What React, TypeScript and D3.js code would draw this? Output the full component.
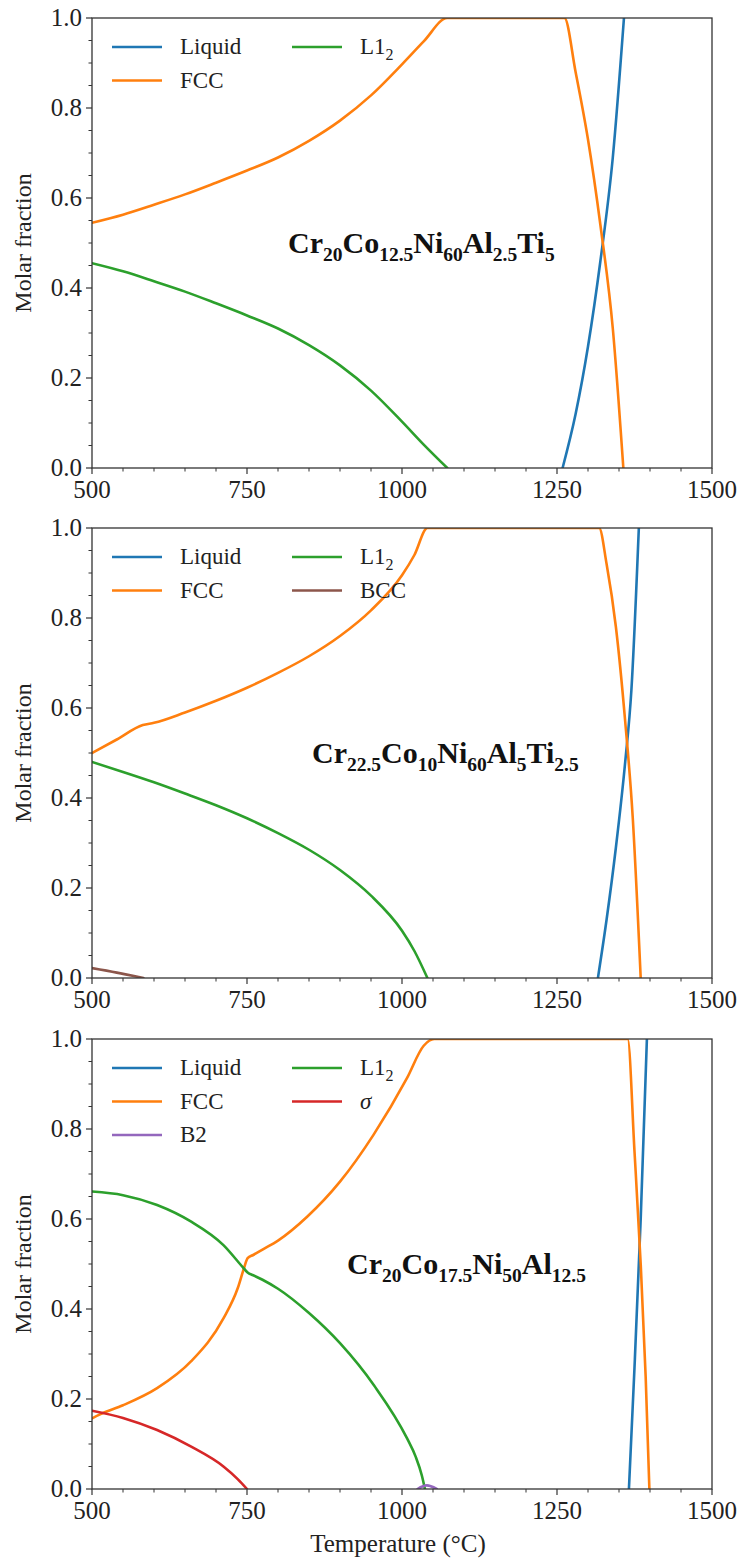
import React from "react";
import * as d3 from "d3";

type Pt = [number, number];

// Temperature / molar-fraction axes
const TEMP_DOMAIN: [number, number] = [500, 1500];
const TEMP_TICKS = [500, 750, 1000, 1250, 1500];
const FRACTION_TICKS = [0, 0.2, 0.4, 0.6, 0.8, 1.0];

// Phase colours
const PHASE_COLORS: Record<string, string> = {
  Liquid: "#1f77b4",
  FCC: "#ff7f0e",
  L12: "#2ca02c",
  BCC: "#8c564b",
  sigma: "#d62728",
  B2: "#9467bd",
};

// Alloy A: Cr20Co12.5Ni60Al2.5Ti5
const alloyALiquid: Pt[] = [[1259, 0], [1280, 0.12], [1300, 0.27], [1320, 0.46], [1340, 0.69], [1358, 1]];
const alloyAFcc: Pt[] = [
  [500, 0.545], [550, 0.563], [600, 0.585], [650, 0.608], [700, 0.634], [750, 0.661], [800, 0.69],
  [850, 0.727], [900, 0.772], [950, 0.828], [1000, 0.897], [1035, 0.948], [1073, 1], [1262, 1],
  [1280, 0.88], [1300, 0.73], [1320, 0.54], [1340, 0.31], [1357, 0],
];
const alloyAL12: Pt[] = [
  [500, 0.455], [550, 0.437], [600, 0.415], [650, 0.392], [700, 0.366], [750, 0.339], [800, 0.31],
  [850, 0.273], [900, 0.228], [950, 0.172], [1000, 0.103], [1035, 0.052], [1073, 0],
];

// Alloy B: Cr22.5Co10Ni60Al5Ti2.5
const alloyBLiquid: Pt[] = [[1316, 0], [1330, 0.13], [1345, 0.29], [1360, 0.48], [1370, 0.64], [1382, 1]];
const alloyBFcc: Pt[] = [
  [500, 0.5], [540, 0.53], [582, 0.562], [600, 0.567], [650, 0.59], [700, 0.616], [750, 0.645],
  [800, 0.678], [850, 0.715], [900, 0.76], [950, 0.817], [1000, 0.895], [1020, 0.94], [1041, 1],
  [1318, 1], [1330, 0.92], [1345, 0.78], [1360, 0.57], [1372, 0.36], [1385, 0],
];
const alloyBL12: Pt[] = [
  [500, 0.48], [550, 0.458], [600, 0.435], [650, 0.41], [700, 0.384], [750, 0.355], [800, 0.322],
  [850, 0.285], [900, 0.24], [950, 0.183], [1000, 0.105], [1020, 0.06], [1041, 0],
];
const alloyBBcc: Pt[] = [[500, 0.022], [540, 0.012], [583, 0]];

// Alloy C: Cr20Co17.5Ni50Al12.5
const alloyCLiquid: Pt[] = [[1366, 0], [1375, 0.27], [1385, 0.6], [1395, 1]];
const alloyCFcc: Pt[] = [
  [500, 0.157], [513, 0.166], [550, 0.186], [605, 0.224], [660, 0.284], [712, 0.379], [735, 0.446],
  [745, 0.49], [751, 0.513], [760, 0.52], [775, 0.532], [800, 0.552], [847, 0.605], [900, 0.683],
  [954, 0.787], [1008, 0.913], [1035, 0.985], [1052, 1], [1364, 1], [1375, 0.75], [1385, 0.5],
  [1393, 0.25], [1399, 0],
];
const alloyCL12: Pt[] = [
  [500, 0.661], [550, 0.653], [605, 0.631], [660, 0.594], [712, 0.542], [745, 0.49], [751, 0.481],
  [760, 0.475], [775, 0.465], [800, 0.445], [850, 0.391], [900, 0.324], [955, 0.23], [1008, 0.113],
  [1022, 0.072], [1032, 0.03], [1037, 0],
];
const alloyCSigma: Pt[] = [[500, 0.174], [550, 0.158], [605, 0.131], [660, 0.094], [712, 0.05], [735, 0.022], [750, 0]];
const alloyCB2: Pt[] = [[1025, 0], [1040, 0.008], [1056, 0]];

type Series = { key: string; data: Pt[] };
type LegendItem = { key: string; label: React.ReactNode };
type Formula = { parts: [string, string][] };

type Panel = {
  series: Series[];
  legendCols: LegendItem[][];
  formula: Formula;
  formulaX: number;
};

const liquidItem: LegendItem = { key: "Liquid", label: "Liquid" };
const fccItem: LegendItem = { key: "FCC", label: "FCC" };
const l12Item: LegendItem = {
  key: "L12",
  label: (
    <>
      L1<tspan dy={6} fontSize={16}>2</tspan>
    </>
  ),
};

const panels: Panel[] = [
  {
    series: [
      { key: "Liquid", data: alloyALiquid },
      { key: "FCC", data: alloyAFcc },
      { key: "L12", data: alloyAL12 },
    ],
    legendCols: [[liquidItem, fccItem], [l12Item]],
    formula: { parts: [["Cr", "20"], ["Co", "12.5"], ["Ni", "60"], ["Al", "2.5"], ["Ti", "5"]] },
    formulaX: 288,
  },
  {
    series: [
      { key: "Liquid", data: alloyBLiquid },
      { key: "FCC", data: alloyBFcc },
      { key: "L12", data: alloyBL12 },
      { key: "BCC", data: alloyBBcc },
    ],
    legendCols: [[liquidItem, fccItem], [l12Item, { key: "BCC", label: "BCC" }]],
    formula: { parts: [["Cr", "22.5"], ["Co", "10"], ["Ni", "60"], ["Al", "5"], ["Ti", "2.5"]] },
    formulaX: 312,
  },
  {
    series: [
      { key: "Liquid", data: alloyCLiquid },
      { key: "FCC", data: alloyCFcc },
      { key: "L12", data: alloyCL12 },
      { key: "sigma", data: alloyCSigma },
      { key: "B2", data: alloyCB2 },
    ],
    legendCols: [
      [liquidItem, fccItem, { key: "B2", label: "B2" }],
      [l12Item, { key: "sigma", label: <tspan fontStyle="italic">σ</tspan> }],
    ],
    formula: { parts: [["Cr", "20"], ["Co", "17.5"], ["Ni", "50"], ["Al", "12.5"]] },
    formulaX: 347,
  },
];

const WIDTH = 739;
const HEIGHT = 1560;
const LEFT = 92;
const RIGHT = 712;
const PANEL_TOPS = [18, 528, 1039];
const PANEL_H = 450;
const FONT = "Liberation Serif, DejaVu Serif, serif";
const AXIS_COLOR = "#333";

function PhasePanel({ panel, top, index, showXLabel }: { panel: Panel; top: number; index: number; showXLabel: boolean }) {
  const x = d3.scaleLinear().domain(TEMP_DOMAIN).range([LEFT, RIGHT]);
  const y = d3.scaleLinear().domain([0, 1]).range([top + PANEL_H, top]);
  const line = d3
    .line<Pt>()
    .x((d) => x(d[0]))
    .y((d) => y(d[1]))
    .curve(d3.curveMonotoneX);

  const minorX = d3.range(500, 1501, 50).filter((v) => v % 250 !== 0);
  const minorY = d3.range(0, 21).map((i) => i * 0.05).filter((_, i) => i % 4 !== 0);
  const bottom = top + PANEL_H;
  const clipId = `plot-clip-${index}`;

  return (
    <g>
      <defs>
        <clipPath id={clipId}>
          <rect x={LEFT} y={top} width={RIGHT - LEFT} height={PANEL_H} />
        </clipPath>
      </defs>

      {/* phase fraction curves */}
      <g clipPath={`url(#${clipId})`}>
        {panel.series.map((s) => (
          <path
            key={s.key}
            d={line(s.data) ?? ""}
            fill="none"
            stroke={PHASE_COLORS[s.key]}
            strokeWidth={2.6}
            strokeLinejoin="round"
            strokeLinecap="round"
          />
        ))}
      </g>

      {/* frame */}
      <rect x={LEFT} y={top} width={RIGHT - LEFT} height={PANEL_H} fill="none" stroke={AXIS_COLOR} strokeWidth={1.3} />

      {/* x ticks */}
      {TEMP_TICKS.map((t) => (
        <g key={`xt${t}`}>
          <line x1={x(t)} x2={x(t)} y1={bottom} y2={bottom + 6} stroke={AXIS_COLOR} strokeWidth={1.2} />
          <text x={x(t)} y={bottom + 30} textAnchor="middle" fontFamily={FONT} fontSize={25} fill="#222">
            {t}
          </text>
        </g>
      ))}
      {minorX.map((t) => (
        <line key={`xm${t}`} x1={x(t)} x2={x(t)} y1={bottom} y2={bottom + 3.5} stroke={AXIS_COLOR} strokeWidth={1} />
      ))}

      {/* y ticks */}
      {FRACTION_TICKS.map((v) => (
        <g key={`yt${v}`}>
          <line x1={LEFT - 6} x2={LEFT} y1={y(v)} y2={y(v)} stroke={AXIS_COLOR} strokeWidth={1.2} />
          <text x={LEFT - 10} y={y(v) + 8} textAnchor="end" fontFamily={FONT} fontSize={25} fill="#222">
            {v.toFixed(1)}
          </text>
        </g>
      ))}
      {minorY.map((v) => (
        <line key={`ym${v}`} x1={LEFT - 3.5} x2={LEFT} y1={y(v)} y2={y(v)} stroke={AXIS_COLOR} strokeWidth={1} />
      ))}

      {/* y label */}
      <text
        transform={`translate(31, ${top + PANEL_H / 2}) rotate(-90)`}
        textAnchor="middle"
        fontFamily={FONT}
        fontSize={24}
        fill="#222"
      >
        Molar fraction
      </text>

      {/* legend */}
      {panel.legendCols.map((col, ci) =>
        col.map((item, ri) => {
          const hx = ci === 0 ? 112 : 292;
          const ly = top + 29 + ri * 33.5;
          return (
            <g key={`lg${ci}-${ri}`}>
              <line x1={hx} x2={hx + 50} y1={ly} y2={ly} stroke={PHASE_COLORS[item.key]} strokeWidth={2.6} />
              <text x={hx + 68} y={ly + 7} fontFamily={FONT} fontSize={23} fill="#222">
                {item.label}
              </text>
            </g>
          );
        })
      )}

      {/* alloy composition */}
      <text x={panel.formulaX} y={top + 235} fontFamily={FONT} fontWeight="bold" fontSize={30} fill="#111">
        {panel.formula.parts.map(([el, sub], i) => (
          <React.Fragment key={i}>
            <tspan dy={i === 0 ? 0 : -8}>{el}</tspan>
            <tspan dy={8} fontSize={19.5}>
              {sub}
            </tspan>
          </React.Fragment>
        ))}
      </text>

      {showXLabel && (
        <text x={(LEFT + RIGHT) / 2 - 4} y={bottom + 63} textAnchor="middle" fontFamily={FONT} fontSize={25} fill="#222">
          Temperature (°C)
        </text>
      )}
    </g>
  );
}

export default function App() {
  return (
    <svg
      width={WIDTH}
      height={HEIGHT}
      viewBox={`0 0 ${WIDTH} ${HEIGHT}`}
      style={{ position: "absolute", left: 0, top: 0, background: "#fff" }}
    >
      <rect width={WIDTH} height={HEIGHT} fill="#fff" />
      {panels.map((p, i) => (
        <PhasePanel key={i} panel={p} top={PANEL_TOPS[i]} index={i} showXLabel={i === panels.length - 1} />
      ))}
    </svg>
  );
}
